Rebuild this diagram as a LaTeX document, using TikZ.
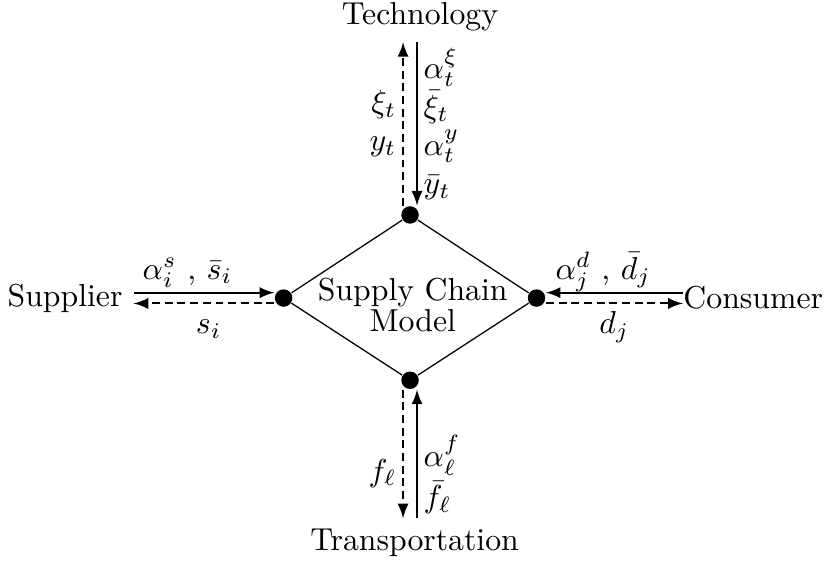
\documentclass[tikz,border=0pt]{standalone}
\begin{document}
\begin{tikzpicture}[>=latex, vdot/.style={circle, fill, inner sep=0pt, minimum size=5.5pt},
	lbl/.style={inner sep=1.8pt}, flow/.style={semithick, ->},
	back/.style={semithick, dash pattern=on 2.5pt off 1.5pt, ->}]
	\useasboundingbox (-4.54,-2.934) rectangle (4.594,3.30);
	
	\node[vdot] (tdot) at (0,0.92) {};
	\node[vdot] (bdot) at (0,-0.91) {};
	\node[vdot] (ldot) at (-1.4,0) {};
	\node[vdot] (rdot) at (1.4,0) {};
	\draw (tdot) -- (rdot) -- (bdot) -- (ldot) -- (tdot);
	\node[align=center] (model) at (0.03,-0.076) {Supply Chain\\[-2pt]Model};
	
	\node[anchor=base] (tech) at (0.11,3.03) {Technology};
	\node[anchor=base] (trans) at (0.05,-2.80) {Transportation};
	\node[anchor=east] (supp) at (-3.06,0) {Supplier};
	\node[anchor=west, inner xsep=0pt] (cons) at (3.02,0) {Consumer};
	
	% technology
	\draw[back] ([xshift=-2.2pt]tdot.north) -- ([xshift=-2.2pt]tdot.north |- tech.south)
	node[lbl, midway, left, align=right] {$\xi_t$\\$y_t$};
	\draw[flow] ([xshift=2.2pt]tdot.north |- tech.south) -- ([xshift=2.2pt]tdot.north)
	node[lbl, midway, right, align=left] {$\alpha_t^\xi$\\$\bar{\xi}_t$\\$\alpha_t^y$\\$\bar{y}_t$};
	
	% transportation
	\draw[back] ([xshift=-2.2pt]bdot.south) -- ([xshift=-2.2pt]bdot.south |- trans.north)
	node[lbl, pos=0.65, left] {$f_\ell$};
	\draw[flow] ([xshift=2.2pt]bdot.south |- trans.north) -- ([xshift=2.2pt]bdot.south)
	node[lbl, pos=0.34, right, align=left] {$\alpha_\ell^f$\\[1pt]$\bar{f}_\ell$};
	
	% supplier
	\draw[flow] ([yshift=1.7pt]supp.east) -- ([yshift=1.7pt]ldot.west)
	node[midway, anchor=base, yshift=4.3pt, xshift=-5.2pt] {$\alpha_i^s$ , $\bar{s}_i$};
	\draw[back] ([yshift=-1.7pt]ldot.west) -- ([yshift=-1.7pt]supp.east)
	node[midway, anchor=base, yshift=-9.6pt, xshift=1.5pt] {$s_i$};
	
	% consumer
	\draw[flow] ([yshift=1.7pt]cons.west) -- ([yshift=1.7pt]rdot.east)
	node[midway, anchor=base, yshift=4.3pt, xshift=-3.5pt] {$\alpha_j^d$ , $\bar{d}_j$};
	\draw[back] ([yshift=-1.7pt]rdot.east) -- ([yshift=-1.7pt]cons.west)
	node[midway, anchor=base, yshift=-9.6pt] {$d_j$};
\end{tikzpicture}
\end{document}
